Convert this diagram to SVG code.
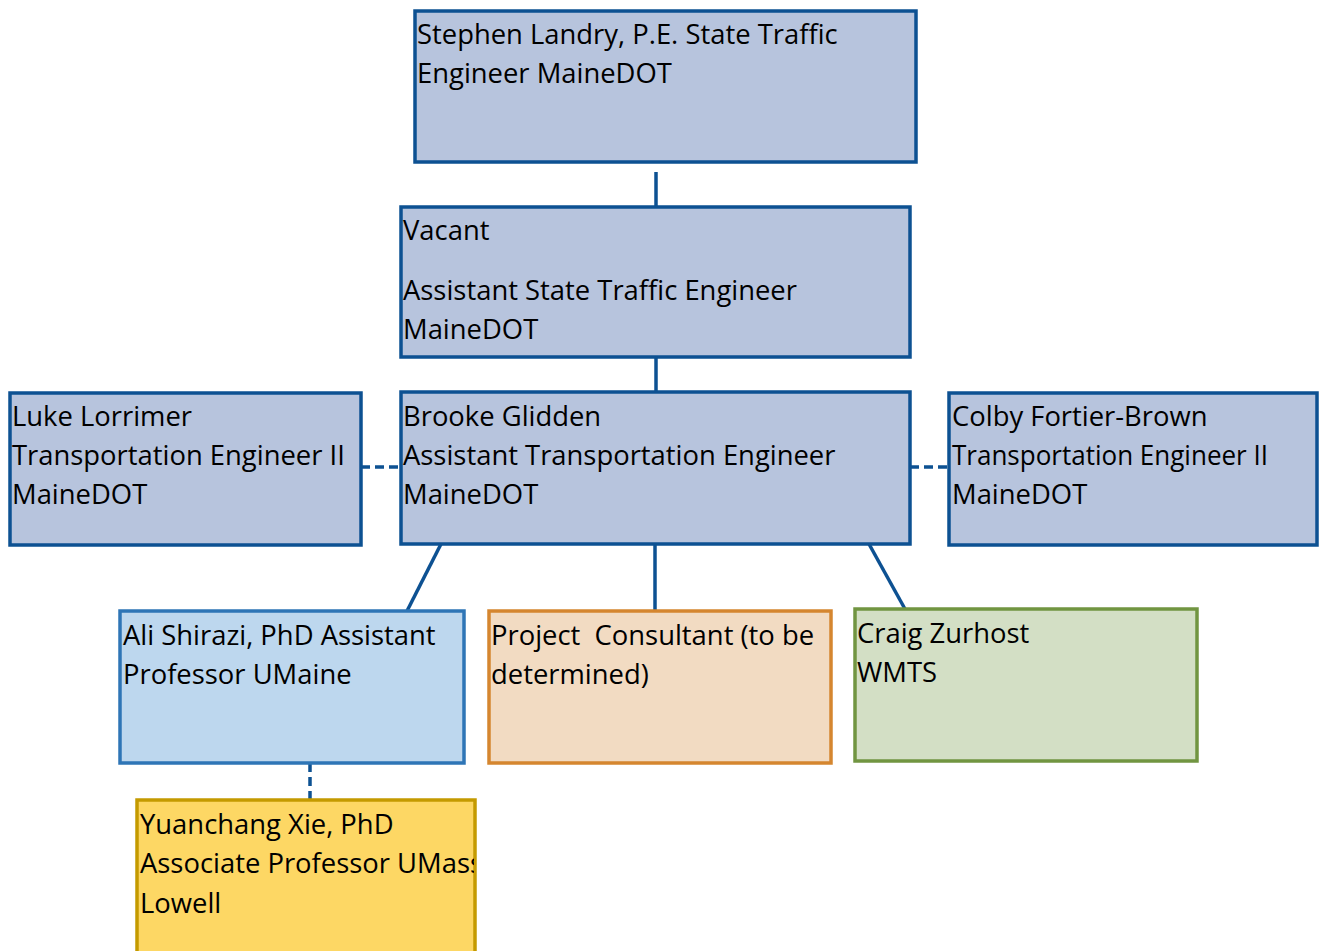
<svg xmlns="http://www.w3.org/2000/svg" width="1323" height="951" viewBox="0 0 1323 951">
<style>
text{font-family:"Open Sans","Noto Sans","Liberation Sans",sans-serif;font-size:27.4px;fill:#000;white-space:pre}
.b{fill:#b7c4dd;stroke:#0d5192;stroke-width:3.5}
.c{stroke:#0d5192;stroke-width:3.5;fill:none}
.d{stroke:#0d5192;stroke-width:3.5;fill:none;stroke-dasharray:9 5}
</style>
<defs><clipPath id="cy"><rect x="137" y="800" width="337" height="151"/></clipPath></defs>
<rect width="1323" height="951" fill="#fff"/>
<g id="connectors">
<line class="c" x1="656" y1="172" x2="656" y2="206"/>
<line class="c" x1="656" y1="357" x2="656" y2="392"/>
<line class="d" x1="361" y1="467" x2="401" y2="467"/>
<line class="d" x1="910" y1="467" x2="949" y2="467"/>
<line class="c" x1="441" y1="544" x2="407" y2="611"/>
<line class="c" x1="655" y1="544" x2="655" y2="611"/>
<line class="c" x1="869" y1="544" x2="905" y2="609"/>
<line class="d" x1="310" y1="763" x2="310" y2="800"/>
</g>
<g id="stephen"><rect class="b" x="415" y="11" width="501" height="151"/>
<text x="417" y="44">Stephen Landry, P.E. State Traffic</text><text x="417" y="83">Engineer MaineDOT</text></g>
<g id="vacant"><rect class="b" x="401" y="207" width="509" height="150"/>
<text x="403" y="240">Vacant</text><text x="403" y="300">Assistant State Traffic Engineer</text><text x="403" y="339">MaineDOT</text></g>
<g id="brooke"><rect class="b" x="401" y="392" width="509" height="152"/>
<text x="403" y="426">Brooke Glidden</text><text x="403" y="465">Assistant Transportation Engineer</text><text x="403" y="504">MaineDOT</text></g>
<g id="luke"><rect class="b" x="10" y="393" width="351" height="152"/>
<text x="12" y="426">Luke Lorrimer</text><text x="12" y="465">Transportation Engineer II</text><text x="12" y="504">MaineDOT</text></g>
<g id="colby"><rect class="b" x="949" y="393" width="368" height="152"/>
<text x="952" y="426">Colby Fortier-Brown</text><text x="952" y="465" textLength="316" lengthAdjust="spacingAndGlyphs">Transportation Engineer II</text><text x="952" y="504">MaineDOT</text></g>
<g id="ali"><rect x="120" y="611" width="344" height="152" fill="#bdd7ee" stroke="#2e75b6" stroke-width="3.5"/>
<text x="123" y="645">Ali Shirazi, PhD Assistant</text><text x="123" y="684">Professor UMaine</text></g>
<g id="consultant"><rect x="489" y="611" width="342" height="152" fill="#f2dbc2" stroke="#d5862f" stroke-width="3.5"/>
<text x="491" y="645">Project  Consultant (to be</text><text x="491" y="684">determined)</text></g>
<g id="craig"><rect x="855" y="609" width="342" height="152" fill="#d3dfc5" stroke="#719541" stroke-width="3.5"/>
<text x="857" y="643">Craig Zurhost</text><text x="857" y="682">WMTS</text></g>
<g id="yuanchang"><rect x="137" y="800" width="338" height="160" fill="#fdd764" stroke="#c49a00" stroke-width="3.5"/>
<g clip-path="url(#cy)"><text x="140" y="834">Yuanchang Xie, PhD</text><text x="140" y="873">Associate Professor UMass</text><text x="140" y="913">Lowell</text></g></g>
</svg>
